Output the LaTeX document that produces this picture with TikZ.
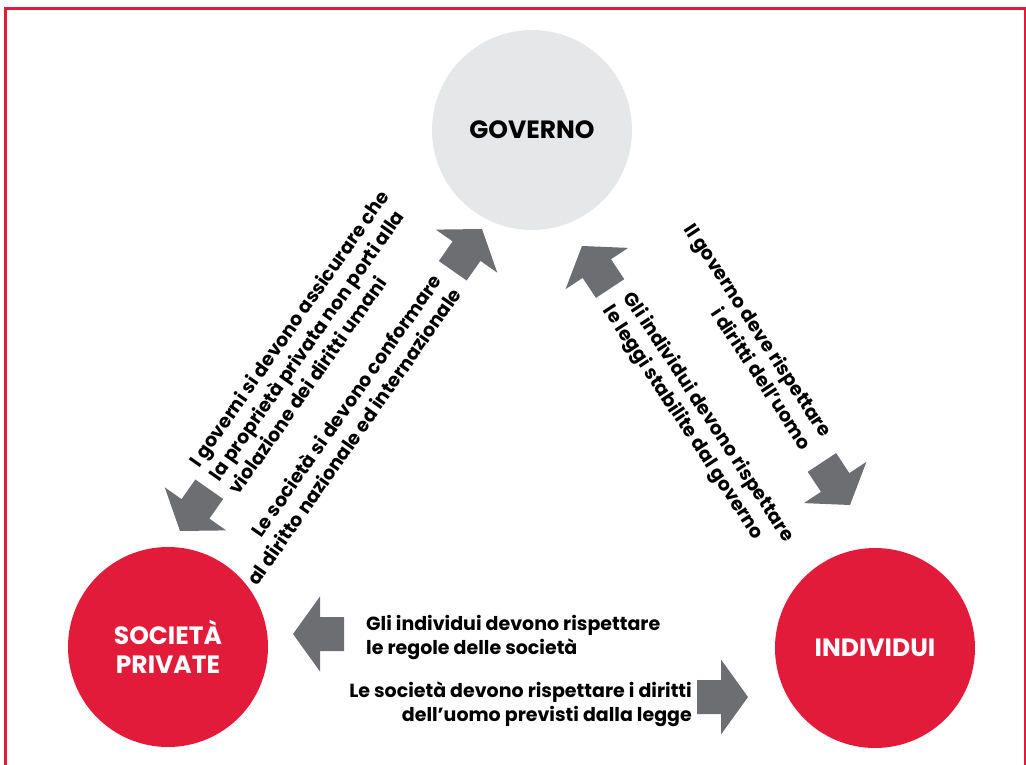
\documentclass[tikz,border=0pt]{standalone}
\usepackage{fontspec}
\setmainfont{Poppins}
\definecolor{govgray}{HTML}{E6E7E8}
\definecolor{redcirc}{HTML}{E31B3A}
\definecolor{arrowgray}{HTML}{6D6E71}
\tikzset{%
  bigcircle/.style={circle, minimum size=200pt, inner sep=0pt, align=center,
    font=\fontsize{25}{29}\selectfont\bfseries},
  relation/.style={inner sep=0pt, font=\fontsize{19}{24}\selectfont\bfseries},
  blockarrow/.pic={\fill[arrowgray] (0,0) -- (-27,37.5) -- (-27,17) -- (-51,17)
    -- (-51,-17) -- (-27,-17) -- (-27,-37.5) -- cycle;}
}

\begin{document}
\begin{tikzpicture}[x=1pt,y=-1pt]
    \useasboundingbox (0,0) rectangle (1026,765);
    % frame
    \draw[redcirc, line width=3pt] (5.5,765) -- (5.5,8.5) -- (1025,8.5) -- (1025,765);
    % the three parties
    \node[bigcircle, fill=govgray] (governo) at (532,130) {GOVERNO};
    \node[bigcircle, fill=redcirc, text=white] (societa) at (168,647) {SOCIET\`A\\PRIVATE};
    \node[bigcircle, fill=redcirc, text=white] (individui) at (875,648) {INDIVIDUI};
    % block arrows
    \pic[rotate=-125] at (180,531) {blockarrow};
    \pic[rotate=55] at (482,229) {blockarrow};
    \pic[rotate=123.4] at (582,246) {blockarrow};
    \pic[rotate=-56.6] at (850,505) {blockarrow};
    \pic[rotate=180] at (293,634) {blockarrow};
    \pic at (748,697) {blockarrow};
    % duties
    \node[relation, rotate=55, anchor=west, align=left] (govsoc) at (213,478)
      {I governi si devono assicurare che\\la propriet\`a privata non porti alla\\violazione dei diritti umani};
    \node[relation, rotate=55, anchor=east, align=right] (socgov) at (446,283)
      {Le societ\`a si devono conformare\\al diritto nazionale ed internazionale};
    \node[relation, rotate=-56.6, anchor=east, align=right] (govind) at (818,441)
      {Il governo deve rispettare\\i diritti dell’uomo};
    \node[relation, rotate=-56.6, anchor=west, align=left] (indgov) at (617,301)
      {Gli individui devono rispettare\\le leggi stabilite dal governo};
    \node[relation, anchor=west, align=left] (indsoc) at (366,637)
      {Gli individui devono rispettare\\le regole delle societ\`a};
    \node[relation, anchor=east, align=right] (socind) at (692,704)
      {Le societ\`a devono rispettare i diritti\\dell’uomo previsti dalla legge};
\end{tikzpicture}
\end{document}
